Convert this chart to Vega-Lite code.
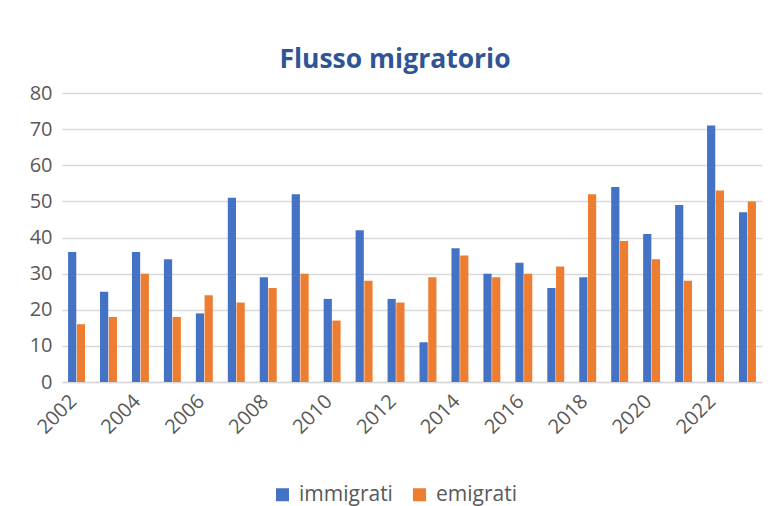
{
  "$schema": "https://vega.github.io/schema/vega-lite/v6.json",
  "autosize": {"type": "none"},
  "width": 700,
  "height": 289,
  "padding": {"left": 62, "top": 93, "right": 10, "bottom": 124},
  "background": "white",
  "title": {
    "text": "Flusso migratorio",
    "font": "Open Sans",
    "fontSize": 26.5,
    "fontWeight": "bold",
    "color": "#2F5597",
    "anchor": "middle",
    "dx": -17,
    "offset": 10
  },
  "data": {
    "values": [
      {"year": "2002", "series": "immigrati", "value": 36}, {"year": "2002", "series": "emigrati", "value": 16},
      {"year": "2003", "series": "immigrati", "value": 25}, {"year": "2003", "series": "emigrati", "value": 18},
      {"year": "2004", "series": "immigrati", "value": 36}, {"year": "2004", "series": "emigrati", "value": 30},
      {"year": "2005", "series": "immigrati", "value": 34}, {"year": "2005", "series": "emigrati", "value": 18},
      {"year": "2006", "series": "immigrati", "value": 19}, {"year": "2006", "series": "emigrati", "value": 24},
      {"year": "2007", "series": "immigrati", "value": 51}, {"year": "2007", "series": "emigrati", "value": 22},
      {"year": "2008", "series": "immigrati", "value": 29}, {"year": "2008", "series": "emigrati", "value": 26},
      {"year": "2009", "series": "immigrati", "value": 52}, {"year": "2009", "series": "emigrati", "value": 30},
      {"year": "2010", "series": "immigrati", "value": 23}, {"year": "2010", "series": "emigrati", "value": 17},
      {"year": "2011", "series": "immigrati", "value": 42}, {"year": "2011", "series": "emigrati", "value": 28},
      {"year": "2012", "series": "immigrati", "value": 23}, {"year": "2012", "series": "emigrati", "value": 22},
      {"year": "2013", "series": "immigrati", "value": 11}, {"year": "2013", "series": "emigrati", "value": 29},
      {"year": "2014", "series": "immigrati", "value": 37}, {"year": "2014", "series": "emigrati", "value": 35},
      {"year": "2015", "series": "immigrati", "value": 30}, {"year": "2015", "series": "emigrati", "value": 29},
      {"year": "2016", "series": "immigrati", "value": 33}, {"year": "2016", "series": "emigrati", "value": 30},
      {"year": "2017", "series": "immigrati", "value": 26}, {"year": "2017", "series": "emigrati", "value": 32},
      {"year": "2018", "series": "immigrati", "value": 29}, {"year": "2018", "series": "emigrati", "value": 52},
      {"year": "2019", "series": "immigrati", "value": 54}, {"year": "2019", "series": "emigrati", "value": 39},
      {"year": "2020", "series": "immigrati", "value": 41}, {"year": "2020", "series": "emigrati", "value": 34},
      {"year": "2021", "series": "immigrati", "value": 49}, {"year": "2021", "series": "emigrati", "value": 28},
      {"year": "2022", "series": "immigrati", "value": 71}, {"year": "2022", "series": "emigrati", "value": 53},
      {"year": "2023", "series": "immigrati", "value": 47}, {"year": "2023", "series": "emigrati", "value": 50}
    ]
  },
  "mark": {"type": "bar"},
  "encoding": {
    "x": {
      "field": "year",
      "type": "nominal",
      "scale": {"paddingInner": 0.47, "paddingOuter": 0.19},
      "axis": {
        "title": null,
        "values": ["2002","2004","2006","2008","2010","2012","2014","2016","2018","2020","2022"],
        "labelAngle": -45,
        "labelAlign": "right",
        "labelBaseline": "middle",
        "labelPadding": 16,
        "labelOffset": -3,
        "labelFont": "Open Sans",
        "labelFontSize": 20,
        "labelColor": "#595959",
        "ticks": false,
        "domainColor": "#d9d9d9",
        "domainWidth": 1.5
      }
    },
    "xOffset": {
      "field": "series",
      "type": "nominal",
      "sort": ["immigrati", "emigrati"],
      "scale": {"paddingInner": 0.06}
    },
    "y": {
      "field": "value",
      "type": "quantitative",
      "scale": {"domain": [0, 80], "nice": false},
      "axis": {
        "title": null,
        "values": [0,10,20,30,40,50,60,70,80],
        "labelFont": "Open Sans",
        "labelFontSize": 20,
        "labelColor": "#595959",
        "labelPadding": 10,
        "ticks": false,
        "domain": false,
        "gridColor": "#d9d9d9",
        "gridWidth": 1.5
      }
    },
    "color": {
      "field": "series",
      "type": "nominal",
      "sort": ["immigrati", "emigrati"],
      "scale": {"domain": ["immigrati", "emigrati"], "range": ["#4472C4", "#ED7D31"]},
      "legend": {
        "title": null,
        "orient": "none",
        "direction": "horizontal",
        "legendX": 210,
        "legendY": 391,
        "symbolType": "square",
        "symbolSize": 169,
        "symbolStrokeWidth": 0,
        "labelFont": "Open Sans",
        "labelFontSize": 21,
        "labelColor": "#595959",
        "labelOffset": 6,
        "columnPadding": 16
      }
    }
  },
  "config": {"view": {"stroke": null}}
}
